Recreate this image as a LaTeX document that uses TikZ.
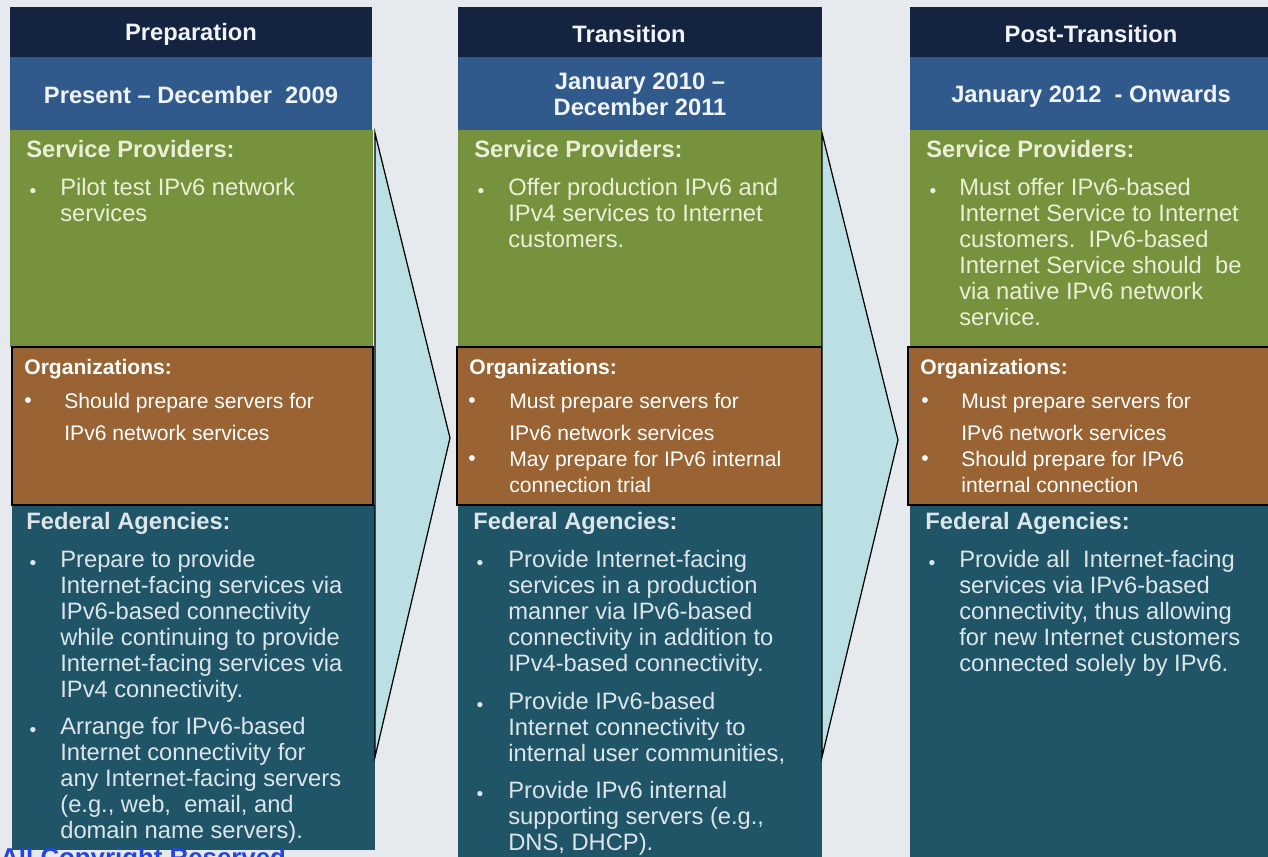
\documentclass[tikz,border=0pt]{standalone}
\usepackage{fontspec}
\setmainfont{Liberation Sans}
\usepackage{tikz}
\usetikzlibrary{positioning,calc}
\usepackage{xcolor}

\definecolor{pagebg}{HTML}{E6EAEE}
\definecolor{navyhead}{HTML}{14233F}
\definecolor{dateblue}{HTML}{30598C}
\definecolor{spgreen}{HTML}{76923C}
\definecolor{orgbrown}{HTML}{9A6333}
\definecolor{fedteal}{HTML}{1F5567}
\definecolor{chevfill}{HTML}{BAE0E3}
\definecolor{creamtxt}{HTML}{ECEFD8}
\definecolor{greytxt}{HTML}{DCE5EA}
\definecolor{headtxt}{HTML}{F0F3F8}
\definecolor{footblue}{HTML}{2244E6}

\begin{document}
\begin{tikzpicture}[x=0.02cm, y=-0.02cm,
  headlbl/.style={text=headtxt, font=\bfseries\fontsize{13.5}{14.9}\selectfont, align=center, inner sep=0},
  sechd/.style={font=\bfseries\fontsize{13.5}{14.9}\selectfont, anchor=base west, inner sep=0},
  bodytxt/.style={font=\fontsize{13.5}{14.9}\selectfont, align=left, anchor=north west, inner sep=0},
  smalldot/.style={font=\fontsize{11}{12}\selectfont, inner sep=0, yshift=-4pt},
  orghd/.style={text=white, font=\bfseries\fontsize{12}{14.9}\selectfont, anchor=base west, inner sep=0},
  orgtxt/.style={text=white, font=\fontsize{12}{14.9}\selectfont, align=left, anchor=north west, inner sep=0},
  orgdot/.style={text=white, font=\fontsize{12}{14}\selectfont, inner sep=0, yshift=-1pt},
  chevron/.style={fill=chevfill, draw=black, line width=0.7pt, line join=miter}]

  % Page
  \fill[pagebg] (0,0) rectangle (1268,857);
  \useasboundingbox (0,0) rectangle (1268,857);

  % Preparation column
  \fill[navyhead] (10,7) rectangle (372,57);
  \fill[dateblue] (10,57) rectangle (372,130);
  \fill[spgreen] (10,130) rectangle (373,347);
  \fill[fedteal] (12,505) rectangle (375,850);
  \draw[fill=orgbrown, draw=black, line width=0.7pt] (12,347) rectangle (373,505);

  % Transition column
  \fill[navyhead] (458,7) rectangle (822,57);
  \fill[dateblue] (458,57) rectangle (822,130);
  \fill[spgreen] (458,130) rectangle (822,347);
  \fill[fedteal] (458,505) rectangle (822,857);
  \draw[fill=orgbrown, draw=black, line width=0.7pt] (457,347) rectangle (822,505);

  % Post-Transition column
  \fill[navyhead] (910,7) rectangle (1268,57);
  \fill[dateblue] (910,57) rectangle (1268,130);
  \fill[spgreen] (910,130) rectangle (1268,347);
  \fill[fedteal] (910,505) rectangle (1268,857);
  \draw[fill=orgbrown, draw=black, line width=0.7pt] (908,347) rectangle (1270,505);

  % Chevrons between columns
  \draw[chevron] (375,133) -- (450,438) -- (375,757) -- cycle;
  \draw[chevron] (822,133) -- (898,440) -- (822,757) -- cycle;

  % Headers
  \node[headlbl] (prep-head) at (191,34) {Preparation};
  \node[headlbl] (prep-date) at (191,95) {Present -- December\ \ 2009};
  \node[headlbl] (trans-head) at (629,34) {Transition};
  \node[headlbl] (trans-date) at (640,94) {January 2010 --\\December 2011};
  \node[headlbl] (post-head) at (1091,34) {Post-Transition};
  \node[headlbl] (post-date) at (1091,96) {January 2012\ \ - Onwards};

  % Service providers
  \node[sechd, text=creamtxt] (prep-sp) at (26,157.5) {Service Providers:};
  \node[smalldot, text=creamtxt] (prep-sp-dot) at (33,186) {\textbullet};
  \node[bodytxt, text=creamtxt] (prep-sp-1) at (60,177.5) {Pilot test IPv6 network\\services};

  \node[sechd, text=creamtxt] (trans-sp) at (474,157.5) {Service Providers:};
  \node[smalldot, text=creamtxt] (trans-sp-dot) at (481,186) {\textbullet};
  \node[bodytxt, text=creamtxt] (trans-sp-1) at (508,177.5) {Offer production IPv6 and\\IPv4 services to Internet\\customers.};

  \node[sechd, text=creamtxt] (post-sp) at (926,157.5) {Service Providers:};
  \node[smalldot, text=creamtxt] (post-sp-dot) at (933,186) {\textbullet};
  \node[bodytxt, text=creamtxt] (post-sp-1) at (959,177.5) {Must offer IPv6-based\\Internet Service to Internet\\customers.\ \ IPv6-based\\Internet Service should\ \ be\\via native IPv6 network\\service.};

  % Organizations
  \node[orghd] (prep-org) at (24,374.5) {Organizations:};
  \node[orgdot] (prep-org-dot) at (28,401) {\textbullet};
  \node[orgtxt] (prep-org-1) at (64,393) {Should prepare servers for\\[3.4pt]IPv6 network services};

  \node[orghd] (trans-org) at (469,374.5) {Organizations:};
  \node[orgdot] (trans-org-dot1) at (472,401) {\textbullet};
  \node[orgtxt] (trans-org-1) at (509,393) {Must prepare servers for\\[3.4pt]IPv6 network services};
  \node[orgdot] (trans-org-dot2) at (472,459) {\textbullet};
  \node[orgtxt] (trans-org-2) at (509,451) {May prepare for IPv6 internal\\connection trial};

  \node[orghd] (post-org) at (920,374.5) {Organizations:};
  \node[orgdot] (post-org-dot1) at (925,401) {\textbullet};
  \node[orgtxt] (post-org-1) at (961,393) {Must prepare servers for\\[3.4pt]IPv6 network services};
  \node[orgdot] (post-org-dot2) at (925,459) {\textbullet};
  \node[orgtxt] (post-org-2) at (961,451) {Should prepare for IPv6\\internal connection};

  % Federal agencies
  \node[sechd, text=greytxt] (prep-fed) at (26,529.5) {Federal Agencies:};
  \node[smalldot, text=greytxt] (prep-fed-dot1) at (33,558) {\textbullet};
  \node[bodytxt, text=greytxt] (prep-fed-1) at (60,549.5) {Prepare to provide\\Internet-facing services via\\IPv6-based connectivity\\while continuing to provide\\Internet-facing services via\\IPv4 connectivity.};
  \node[smalldot, text=greytxt] (prep-fed-dot2) at (33,725) {\textbullet};
  \node[bodytxt, text=greytxt] (prep-fed-2) at (60,716.5) {Arrange for IPv6-based\\Internet connectivity for\\any Internet-facing servers\\(e.g., web,\ \ email, and\\domain name servers).};

  \node[sechd, text=greytxt] (trans-fed) at (473,529.5) {Federal Agencies:};
  \node[smalldot, text=greytxt] (trans-fed-dot1) at (480,558) {\textbullet};
  \node[bodytxt, text=greytxt] (trans-fed-1) at (508,549.5) {Provide Internet-facing\\services in a production\\manner via IPv6-based\\connectivity in addition to\\IPv4-based connectivity.};
  \node[smalldot, text=greytxt] (trans-fed-dot2) at (480,700) {\textbullet};
  \node[bodytxt, text=greytxt] (trans-fed-2) at (508,691.5) {Provide IPv6-based\\Internet connectivity to\\internal user communities,};
  \node[smalldot, text=greytxt] (trans-fed-dot3) at (480,789) {\textbullet};
  \node[bodytxt, text=greytxt] (trans-fed-3) at (508,780.5) {Provide IPv6 internal\\supporting servers (e.g.,\\DNS, DHCP).};

  \node[sechd, text=greytxt] (post-fed) at (925,530) {Federal Agencies:};
  \node[smalldot, text=greytxt] (post-fed-dot1) at (932,558) {\textbullet};
  \node[bodytxt, text=greytxt] (post-fed-1) at (959,549.5) {Provide all\ \ Internet-facing\\services via IPv6-based\\connectivity, thus allowing\\for new Internet customers\\connected solely by IPv6.};

  % Footer, cut by the page edge
  \node[text=footblue, font=\bfseries\fontsize{14.7}{16}\selectfont, anchor=base west, inner sep=0] (footer) at (0,866.5) {All Copyright Reserved};

\end{tikzpicture}
\end{document}
